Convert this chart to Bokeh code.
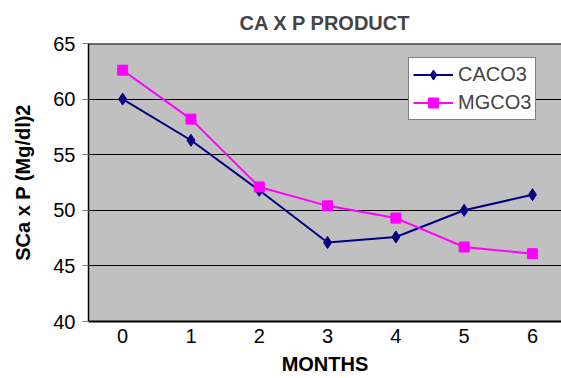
from bokeh.plotting import figure
from bokeh.models import ColumnDataSource, Range1d, FixedTicker, Legend, LegendItem, Span
from bokeh.embed import file_html
from bokeh.resources import INLINE

months = [0, 1, 2, 3, 4, 5, 6]
caco3 = [60.0, 56.3, 51.8, 47.1, 47.6, 50.0, 51.4]
mgco3 = [62.6, 58.2, 52.1, 50.4, 49.3, 46.7, 46.1]
y_ticks = [40, 45, 50, 55, 60, 65]

src = ColumnDataSource(dict(x=months, ca=caco3, mg=mgco3))

FONT = "Liberation Sans"

p = figure(width=561, height=378, output_backend="svg", toolbar_location=None,
           x_range=Range1d(-0.5, 6.425), y_range=Range1d(40, 65),
           min_border_left=88, min_border_right=0, min_border_top=43, min_border_bottom=57,
           border_fill_color="white")
p.background_fill_color = "#C0C0C0"
p.outline_line_color = None

p.title.text = "CA X P PRODUCT"
p.title.align = "center"
p.title.text_font = FONT
p.title.text_font_size = "20px"
p.title.text_font_style = "bold"
p.title.offset = 6
p.title.standoff = 19

p.xgrid.grid_line_color = None
p.ygrid.grid_line_color = "black"
p.ygrid.grid_line_width = 1
p.ygrid.ticker = FixedTicker(ticks=y_ticks)

p.xaxis.ticker = FixedTicker(ticks=months)
p.yaxis.ticker = FixedTicker(ticks=y_ticks)

for ax in (p.xaxis[0], p.yaxis[0]):
    ax.major_label_text_font = FONT
    ax.major_label_text_font_size = "20px"
    ax.major_label_text_color = "black"
    ax.axis_label_text_font = FONT
    ax.axis_label_text_font_size = "20px"
    ax.axis_label_text_font_style = "bold"
    ax.axis_label_text_color = "black"
    ax.minor_tick_line_color = None
    ax.axis_line_color = "black"

p.xaxis.axis_label = "MONTHS"
p.xaxis.axis_line_width = 2
p.xaxis.major_tick_line_color = None
p.xaxis.major_tick_out = 0
p.xaxis.major_label_standoff = 7
p.xaxis.axis_label_standoff = 7

p.yaxis.axis_label = "SCa x P (Mg/dl)2"
p.yaxis.axis_line_width = 1.5
p.yaxis.major_tick_line_color = "#808080"
p.yaxis.major_tick_out = 6
p.yaxis.major_tick_in = 0
p.yaxis.major_label_standoff = 7
p.yaxis.axis_label_standoff = 16

top = Span(location=65, dimension="width", line_color="black", line_width=2)
p.add_layout(top)

l1 = p.line("x", "ca", source=src, line_color="#000080", line_width=2)
m1 = p.scatter("x", "ca", source=src, marker="diamond", size=12,
               fill_color="#000080", line_color="#000080")
l2 = p.line("x", "mg", source=src, line_color="#FF00FF", line_width=2)
m2 = p.scatter("x", "mg", source=src, marker="square", size=10,
               fill_color="#FF00FF", line_color="#FF00FF")

legend = Legend(items=[LegendItem(label="CACO3", renderers=[l1, m1]),
                       LegendItem(label="MGCO3", renderers=[l2, m2])],
                location=(320, 201))
legend.label_text_font = FONT
legend.label_text_font_size = "20px"
legend.border_line_color = "black"
legend.border_line_width = 1
legend.background_fill_color = "white"
legend.background_fill_alpha = 1
legend.padding = 4
legend.spacing = 3
legend.margin = 0
legend.glyph_width = 40
legend.glyph_height = 25
legend.label_height = 25
legend.label_standoff = 5
p.add_layout(legend)

open("out.html", "w").write(file_html(p, INLINE))
